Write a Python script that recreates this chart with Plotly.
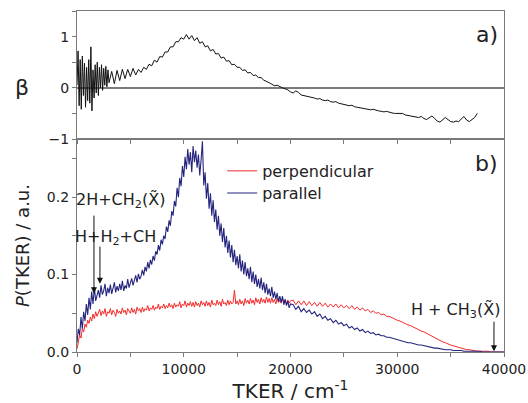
import plotly.graph_objects as go

# ---------------- data ----------------
# TKER grid for P(TKER): 125 cm^-1 steps up to 20000, 250 cm^-1 beyond
tker_p = list(range(0, 20001, 125)) + list(range(20250, 40001, 250))

parallel = [
    0.012, 0.030, 0.022, 0.045, 0.030, 0.052, 0.040, 0.062, 0.048,
    0.070, 0.055, 0.078, 0.062, 0.084, 0.066, 0.072, 0.080,
    0.070, 0.086, 0.074, 0.079, 0.088, 0.072, 0.083, 0.076,
    0.087, 0.075, 0.082, 0.090, 0.077, 0.085, 0.079, 0.088,
    0.080, 0.092, 0.079, 0.086, 0.082, 0.094, 0.083, 0.088,
    0.095, 0.086, 0.092, 0.099, 0.090, 0.101, 0.094, 0.098,
    0.106, 0.099, 0.110, 0.104, 0.116, 0.108, 0.119, 0.113,
    0.124, 0.118, 0.130, 0.126, 0.138, 0.131, 0.145, 0.139,
    0.150, 0.146, 0.162, 0.155, 0.170, 0.163, 0.182, 0.176,
    0.195, 0.188, 0.212, 0.200, 0.225, 0.214, 0.240, 0.226,
    0.252, 0.236, 0.262, 0.242, 0.258, 0.232, 0.266, 0.245,
    0.260, 0.238, 0.255, 0.228, 0.248, 0.272, 0.215, 0.232,
    0.198, 0.218, 0.185, 0.205, 0.176, 0.196, 0.168, 0.184,
    0.158, 0.176, 0.150, 0.166, 0.142, 0.160, 0.135, 0.150,
    0.128, 0.144, 0.122, 0.138, 0.116, 0.132, 0.112, 0.124,
    0.108, 0.126, 0.104, 0.118, 0.100, 0.116, 0.098, 0.108,
    0.094, 0.110, 0.090, 0.104, 0.088, 0.100, 0.084, 0.094,
    0.082, 0.096, 0.080, 0.090, 0.076, 0.088, 0.074, 0.082,
    0.072, 0.084, 0.070, 0.078, 0.068, 0.076, 0.065, 0.072,
    0.064, 0.072, 0.061, 0.068, 0.060, 0.066, 0.057, 0.062,
    # 20250 .. 40000 (250 steps)
    0.061, 0.055, 0.059, 0.052, 0.056, 0.051, 0.054, 0.049, 0.052, 0.046,
    0.049, 0.043, 0.046, 0.041, 0.043, 0.038, 0.041, 0.036, 0.038, 0.034,
    0.036, 0.031, 0.033, 0.029, 0.031, 0.027, 0.029, 0.025, 0.027, 0.024,
    0.025, 0.022, 0.023, 0.021, 0.021, 0.019, 0.019, 0.018, 0.017, 0.016,
    0.015, 0.014, 0.013, 0.012, 0.012, 0.011, 0.010, 0.009, 0.009, 0.008,
    0.007, 0.007, 0.006, 0.005, 0.005, 0.004, 0.004, 0.003, 0.003, 0.003,
    0.002, 0.002, 0.002, 0.002, 0.001, 0.001, 0.001, 0.001, 0.001, 0.001,
    0.001, 0.000, 0.000, 0.000, 0.000, 0.000, 0.000, 0.000, 0.000, 0.000,
]

perpendicular = [
    0.004, 0.015, 0.022, 0.018, 0.030, 0.026, 0.036, 0.032, 0.041,
    0.037, 0.045, 0.040, 0.049, 0.043, 0.052, 0.046, 0.050,
    0.055, 0.047, 0.053, 0.049, 0.056, 0.046, 0.052, 0.050,
    0.056, 0.048, 0.054, 0.051, 0.046, 0.055, 0.050, 0.053,
    0.049, 0.057, 0.051, 0.054, 0.048, 0.056, 0.052, 0.050,
    0.057, 0.051, 0.055, 0.049, 0.058, 0.053, 0.056, 0.051,
    0.058, 0.052, 0.056, 0.054, 0.060, 0.053, 0.057, 0.055,
    0.060, 0.054, 0.058, 0.056, 0.062, 0.055, 0.059, 0.057,
    0.062, 0.056, 0.060, 0.057, 0.063, 0.058, 0.061, 0.056,
    0.063, 0.058, 0.061, 0.059, 0.065, 0.057, 0.062, 0.060,
    0.066, 0.058, 0.063, 0.060, 0.065, 0.059, 0.064, 0.058,
    0.065, 0.060, 0.063, 0.058, 0.066, 0.061, 0.064, 0.059,
    0.066, 0.060, 0.064, 0.058, 0.067, 0.061, 0.063, 0.060,
    0.067, 0.061, 0.065, 0.059, 0.068, 0.062, 0.064, 0.060,
    0.067, 0.061, 0.066, 0.062, 0.064, 0.080, 0.062, 0.066,
    0.061, 0.068, 0.062, 0.066, 0.060, 0.069, 0.063, 0.067,
    0.062, 0.069, 0.063, 0.067, 0.061, 0.070, 0.064, 0.068,
    0.062, 0.070, 0.064, 0.068, 0.063, 0.071, 0.064, 0.069,
    0.063, 0.070, 0.064, 0.068, 0.062, 0.069, 0.064, 0.067,
    0.063, 0.069, 0.064, 0.068, 0.062, 0.067, 0.063, 0.066,
    # 20250 .. 40000 (250 steps)
    0.067, 0.061, 0.066, 0.061, 0.066, 0.060, 0.065, 0.060, 0.064, 0.059,
    0.064, 0.059, 0.063, 0.058, 0.062, 0.058, 0.062, 0.057, 0.061, 0.057,
    0.060, 0.056, 0.060, 0.055, 0.058, 0.054, 0.057, 0.053, 0.055, 0.051,
    0.053, 0.050, 0.051, 0.048, 0.049, 0.046, 0.046, 0.044, 0.043, 0.041,
    0.040, 0.038, 0.037, 0.035, 0.034, 0.032, 0.031, 0.029, 0.027, 0.026,
    0.024, 0.022, 0.020, 0.019, 0.017, 0.015, 0.013, 0.012, 0.010, 0.009,
    0.008, 0.007, 0.006, 0.005, 0.004, 0.003, 0.003, 0.002, 0.002, 0.001,
    0.001, 0.001, 0.001, 0.001, 0.000, 0.000, 0.000, 0.000, 0.000, 0.000,
]

# TKER grid for beta: 100 cm^-1 steps up to 3000, 250 cm^-1 beyond
tker_b = list(range(0, 3001, 100)) + list(range(3250, 37501, 250))

beta = [
    0.05, 0.72, -0.35, 0.55, -0.42, 0.62, -0.15, 0.48, -0.38, 0.40,
    -0.25, 0.55, -0.30, 0.80, -0.45, 0.35, -0.20, 0.45, -0.10, 0.50,
    -0.15, 0.40, 0.00, 0.45, -0.05, 0.38, 0.05, 0.42, 0.02, 0.35,
    0.10,
    # 3250 .. 37500 (250 steps)
    0.32, 0.08, 0.34, 0.14, 0.36, 0.18, 0.36, 0.22, 0.38, 0.25,
    0.36, 0.30, 0.40, 0.36, 0.46, 0.43, 0.54, 0.50, 0.61, 0.60,
    0.70, 0.70, 0.80, 0.80, 0.90, 0.90, 0.98, 0.95, 1.04, 0.95,
    1.02, 0.92, 0.98, 0.87, 0.90, 0.80, 0.82, 0.72, 0.75, 0.66,
    0.67, 0.58, 0.60, 0.52, 0.53, 0.45, 0.46, 0.40, 0.40, 0.34,
    0.35, 0.29, 0.30, 0.24, 0.25, 0.20, 0.20, 0.15, 0.13, 0.10,
    0.07, 0.04, 0.05, 0.02, 0.00, -0.02, -0.04, -0.08, -0.10, -0.06,
    -0.09, -0.14, -0.15, -0.16, -0.18, -0.19, -0.20, -0.22, -0.21, -0.24,
    -0.25, -0.24, -0.27, -0.28, -0.27, -0.30, -0.31, -0.32, -0.34, -0.35,
    -0.34, -0.37, -0.38, -0.39, -0.40, -0.41, -0.42, -0.43, -0.42, -0.44,
    -0.45, -0.46, -0.47, -0.46, -0.48, -0.49, -0.50, -0.50, -0.51, -0.50,
    -0.53, -0.54, -0.55, -0.55, -0.57, -0.58, -0.56, -0.60, -0.62, -0.59,
    -0.55, -0.60, -0.65, -0.67, -0.63, -0.58, -0.62, -0.66, -0.67, -0.65,
    -0.66, -0.60, -0.56, -0.63, -0.66, -0.62, -0.58, -0.50,
]

# dissociation thresholds: labels and TKER positions
thr_labels = ["2H+CH<sub>2</sub>(X\u0303)", "H+H<sub>2</sub>+CH", "H + CH<sub>3</sub>(X\u0303)"]
thr_tker = [1590, 2150, 39060]

assert len(parallel) == len(tker_p) and len(perpendicular) == len(tker_p)
assert len(beta) == len(tker_b)

FONT = "DejaVu Sans"
AX = "#7a7a7a"
TXT = "#222222"

fig = go.Figure()
fig.add_trace(go.Scatter(x=tker_p, y=perpendicular, mode="lines", name="perpendicular",
                         line=dict(color="#f42a2a", width=1), xaxis="x", yaxis="y",
                         legend="legend"))
fig.add_trace(go.Scatter(x=tker_p, y=parallel, mode="lines", name="parallel",
                         line=dict(color="#25257f", width=1.1), xaxis="x", yaxis="y",
                         legend="legend2"))
fig.add_trace(go.Scatter(x=tker_b, y=beta, mode="lines", name="beta", showlegend=False,
                         line=dict(color="#111111", width=1), xaxis="x2", yaxis="y2"))

split = 0.6246
common_axis = dict(showline=True, linecolor=AX, linewidth=1.2, mirror=True,
                   ticks="outside", tickcolor=AX, ticklen=4, showgrid=False,
                   automargin=False,
                   tickfont=dict(family=FONT, size=14, color=TXT))

legend_common = dict(xanchor="left", yanchor="middle", bgcolor="rgba(0,0,0,0)",
                     itemwidth=30, font=dict(family=FONT, size=16, color=TXT))

fig.update_layout(
    width=528, height=403,
    margin=dict(l=77, r=24, t=11, b=51),
    paper_bgcolor="white", plot_bgcolor="white",
    font=dict(family=FONT, color=TXT),
    xaxis=dict(common_axis, range=[0, 40000], dtick=10000, tick0=0, tickformat="d",
               minor=dict(dtick=5000, ticks="outside", ticklen=4, tickcolor=AX),
               anchor="y", zeroline=False,
               title=dict(text="TKER / cm<sup>-1</sup>", font=dict(size=20, family=FONT), standoff=6)),
    yaxis=dict(common_axis, range=[0, 0.275], dtick=0.1, tick0=0, tickformat=".1f",
               minor=dict(dtick=0.05, ticks="outside", ticklen=4, tickcolor=AX),
               domain=[0, split], anchor="x", zeroline=False,
               title=dict(text="<i>P</i>(TKER) / a.u.", font=dict(size=18, family=FONT), standoff=12)),
    xaxis2=dict(common_axis, range=[0, 40000], dtick=5000, tick0=0, matches="x",
                showticklabels=False, anchor="y2", zeroline=False),
    yaxis2=dict(common_axis, range=[-1, 1.5], dtick=1, tick0=0,
                minor=dict(dtick=0.5, ticks="outside", ticklen=4, tickcolor=AX),
                domain=[split, 1], anchor="x2",
                zeroline=True, zerolinecolor=AX, zerolinewidth=1.5),
    legend=dict(legend_common, x=0.34, y=0.531),
    legend2=dict(legend_common, x=0.34, y=0.466),
    showlegend=True,
)

annotations = [
    dict(text="\u03b2", xref="paper", yref="y2", x=-0.128, y=0, showarrow=False,
         font=dict(family=FONT, size=22, color=TXT), xanchor="center", yanchor="middle"),
    dict(text="a)", xref="x2", yref="y2", x=38400, y=1.05, showarrow=False,
         font=dict(family=FONT, size=22, color=TXT), xanchor="center", yanchor="middle"),
    dict(text="b)", xref="x", yref="y", x=38400, y=0.243, showarrow=False,
         font=dict(family=FONT, size=22, color=TXT), xanchor="center", yanchor="middle"),
    # threshold labels
    dict(text=thr_labels[0], xref="x", yref="y", x=4100, y=0.195, showarrow=False,
         font=dict(family=FONT, size=16, color=TXT)),
    dict(text=thr_labels[1], xref="x", yref="y", x=3650, y=0.148, showarrow=False,
         font=dict(family=FONT, size=16, color=TXT)),
    dict(text=thr_labels[2], xref="x", yref="y", x=35500, y=0.054, showarrow=False,
         font=dict(family=FONT, size=16, color=TXT)),
    # arrows
    dict(text="", xref="x", yref="y", x=thr_tker[0], y=0.076, axref="x", ayref="y",
         ax=thr_tker[0], ay=0.178, showarrow=True, arrowhead=2, arrowsize=1.2,
         arrowwidth=1, arrowcolor="#111"),
    dict(text="", xref="x", yref="y", x=thr_tker[1], y=0.088, axref="x", ayref="y",
         ax=thr_tker[1], ay=0.138, showarrow=True, arrowhead=2, arrowsize=1.2,
         arrowwidth=1, arrowcolor="#111"),
    dict(text="", xref="x", yref="y", x=thr_tker[2], y=0.001, axref="x", ayref="y",
         ax=thr_tker[2], ay=0.041, showarrow=True, arrowhead=2, arrowsize=1.2,
         arrowwidth=1, arrowcolor="#111"),
]
fig.update_layout(annotations=annotations)

fig.write_html("out.html", config={"displayModeBar": False},
               post_script="document.body.style.margin='0';document.body.style.overflow='hidden';")
